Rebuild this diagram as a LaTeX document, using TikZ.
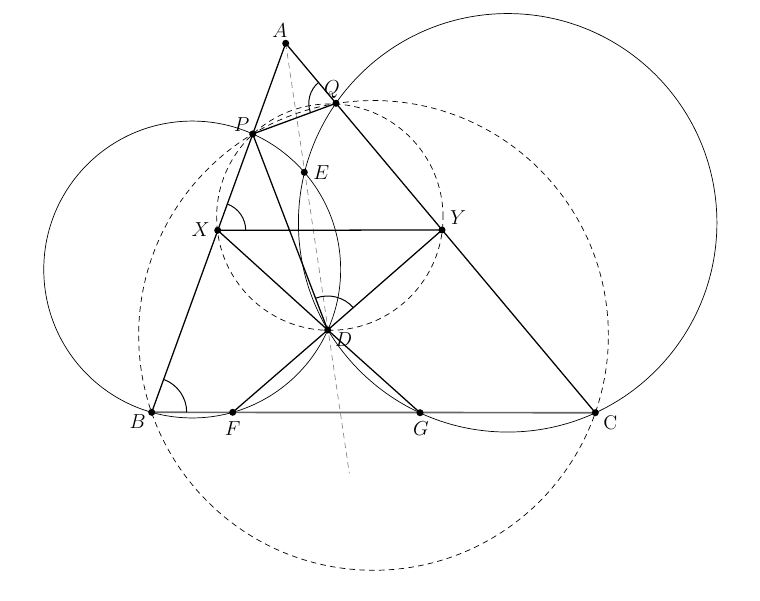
\documentclass[tikz,border=0pt]{standalone}
\usetikzlibrary{angles}

\tikzset{
	dot/.style={circle,fill=black,inner sep=0,minimum size=5pt},
	lbl/.style={font=\fontsize{14}{16}\selectfont,inner sep=0},
	seg/.style={line width=.9pt},
	circ/.style={line width=.5pt},
	dcirc/.style={line width=.5pt,dash pattern=on 4pt off 3pt},
	angarc/.style={draw,line width=.7pt}
}

\begin{document}
\begin{tikzpicture}[x=.025cm,y=-.025cm]
\useasboundingbox (0,0) rectangle (760,600);
% points
\coordinate (A) at (285.7,43.3);
\coordinate (Q) at (336,103.3);
\coordinate (P) at (252.7,134);
\coordinate (E) at (304.3,172.3);
\coordinate (X) at (217.7,230.3);
\coordinate (Y) at (442,230);
\coordinate (D) at (327.7,330);
\coordinate (B) at (151.7,412.3);
\coordinate (F) at (232.7,412.3);
\coordinate (G) at (420,412.7);
\coordinate (C) at (595.3,412.7);
\coordinate (T) at (349.3,473.3);
% circles
\draw[circ] (192.2,269.5) circle[radius=3.71cm];
\draw[circ] (507.65,222.8) circle[radius=5.23cm];
\draw[dcirc] (329.85,217.1) circle[radius=2.83cm];
\draw[dcirc] (373.5,335.4) circle[radius=5.87cm];
\draw[gray,line width=.45pt,dash pattern=on 4pt off 3pt] (A)--(T);
% triangle and segments
\draw[black!60,line width=1.2pt] (B)--(C);
\draw[seg] (B)--(A)--(C) (P)--(Q) (X)--(Y) (X)--(D)--(Y) (P)--(D) (F)--(D)--(G);
% angles
\pic[angarc,angle radius=.875cm]{angle=C--B--A};
\pic[angarc,angle radius=.7cm]{angle=Y--X--A};
\pic[angarc,angle radius=.68cm]{angle=A--Q--P};
\pic[angarc,angle radius=.85cm]{angle=Y--D--P};
% dots
\foreach \p in {A,Q,P,E,X,Y,D,B,F,G,C}
	\node[dot] (n\p) at (\p) {};
% labels
\node[lbl] (lA) at ([shift={(-6,-13)}]A) {$A$};
\node[lbl] (lQ) at ([shift={(-4,-14)}]Q) {$Q$};
\node[lbl] (lP) at ([shift={(-11,-9)}]P) {$P$};
\node[lbl] (lE) at ([shift={(17,0)}]E) {$E$};
\node[lbl] (lX) at ([shift={(-17,-1)}]X) {$X$};
\node[lbl] (lY) at ([shift={(16,-12)}]Y) {$Y$};
\node[lbl] (lD) at ([shift={(16,10)}]D) {$D$};
\node[lbl] (lB) at ([shift={(-14,9)}]B) {$B$};
\node[lbl] (lF) at ([shift={(0,16)}]F) {$F$};
\node[lbl] (lG) at ([shift={(1,16)}]G) {$G$};
\node[lbl] (lC) at ([shift={(15,10)}]C) {C};
\end{tikzpicture}
\end{document}
